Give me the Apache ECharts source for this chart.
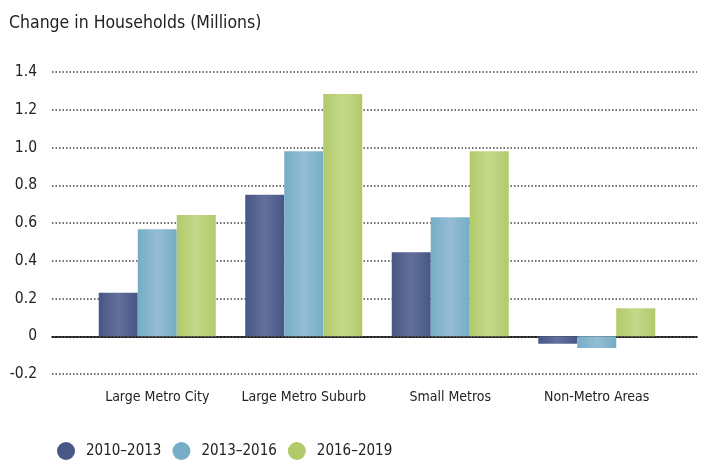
<!DOCTYPE html>
<html>
<head>
<meta charset="utf-8">
<script src="https://cdn.jsdelivr.net/npm/echarts@6/dist/echarts.min.js"></script>
<style>
  html, body { margin: 0; padding: 0; background: #fff; }
  #chart { width: 701px; height: 464px; }
</style>
</head>
<body>
<div id="chart"></div>
<script>
var categories = ['Large Metro City', 'Large Metro Suburb', 'Small Metros', 'Non-Metro Areas']
var seriesNames = ['2010–2013', '2013–2016', '2016–2019']
var values2010 = [0.23, 0.75, 0.445, -0.04]
var values2013 = [0.567, 0.98, 0.63, -0.062]
var values2016 = [0.642, 1.283, 0.98, 0.148]
var yTicks = { min: -0.2, max: 1.4, step: 0.2 }

var font = "'Liberation Sans Narrow', 'DejaVu Sans Condensed', 'Roboto Condensed', 'Liberation Sans', sans-serif"

function grad (edge, mid) {
  return new echarts.graphic.LinearGradient(0, 0, 1, 0, [
    { offset: 0, color: edge },
    { offset: 0.5, color: mid },
    { offset: 1, color: edge }
  ])
}
var solid = ['#475786', '#76adc7', '#b1ca6a']
var fills = [grad('#475786', '#646f9b'), grad('#76adc7', '#94bdd3'), grad('#b1ca6a', '#c5d88b')]

var chart = echarts.init(document.getElementById('chart'))
var option = {
  animation: false,
  textStyle: { fontFamily: font },
  title: {
    text: 'Change in Households (Millions)',
    left: 4,
    top: 9,
    textStyle: { fontFamily: font, fontSize: 17.5, fontWeight: 'normal', color: '#222' }
  },
  legend: {
    data: seriesNames.map(function (n, i) {
      return { name: n, itemStyle: { color: solid[i] } }
    }),
    icon: 'circle',
    itemWidth: 18,
    itemHeight: 18,
    itemGap: 11,
    left: 52,
    top: 437,
    textStyle: { fontFamily: font, fontSize: 15, color: '#222', padding: [0, 0, 0, 6] }
  },
  grid: [
    { left: 52, right: 4, top: 72, bottom: 90 },
    { left: 84, right: 31, top: 72, bottom: 90 }
  ],
  xAxis: [
    {
      gridIndex: 0,
      type: 'category',
      data: [''],
      axisLine: { onZero: true, lineStyle: { color: '#000', width: 1.6 } },
      axisTick: { show: false },
      axisLabel: { show: false }
    },
    {
      gridIndex: 1,
      type: 'category',
      data: categories,
      axisLine: { show: false, onZero: false },
      axisTick: { show: false },
      axisLabel: { interval: 0, margin: 16, fontFamily: font, fontSize: 14, color: '#222' }
    }
  ],
  yAxis: [
    {
      gridIndex: 0,
      type: 'value',
      min: yTicks.min,
      max: yTicks.max,
      interval: yTicks.step,
      axisLine: { show: false },
      axisTick: { show: false },
      axisLabel: {
        margin: 15,
        fontFamily: font,
        fontSize: 15.5,
        color: '#222',
        formatter: function (v) { return Math.abs(v) < 1e-9 ? '0' : v.toFixed(1) }
      },
      splitLine: { lineStyle: { type: [1.5, 2], color: '#444', width: 1.5 } }
    },
    {
      gridIndex: 1,
      type: 'value',
      min: yTicks.min,
      max: yTicks.max,
      interval: yTicks.step,
      axisLine: { show: false },
      axisTick: { show: false },
      axisLabel: { show: false },
      splitLine: { show: false }
    }
  ],
  series: [values2010, values2013, values2016].map(function (vals, i) {
    return {
      name: seriesNames[i],
      type: 'bar',
      xAxisIndex: 1,
      yAxisIndex: 1,
      data: vals,
      barWidth: 39,
      barGap: '0%',
      itemStyle: { color: fills[i] }
    }
  })
}
chart.setOption(option)
</script>
</body>
</html>
